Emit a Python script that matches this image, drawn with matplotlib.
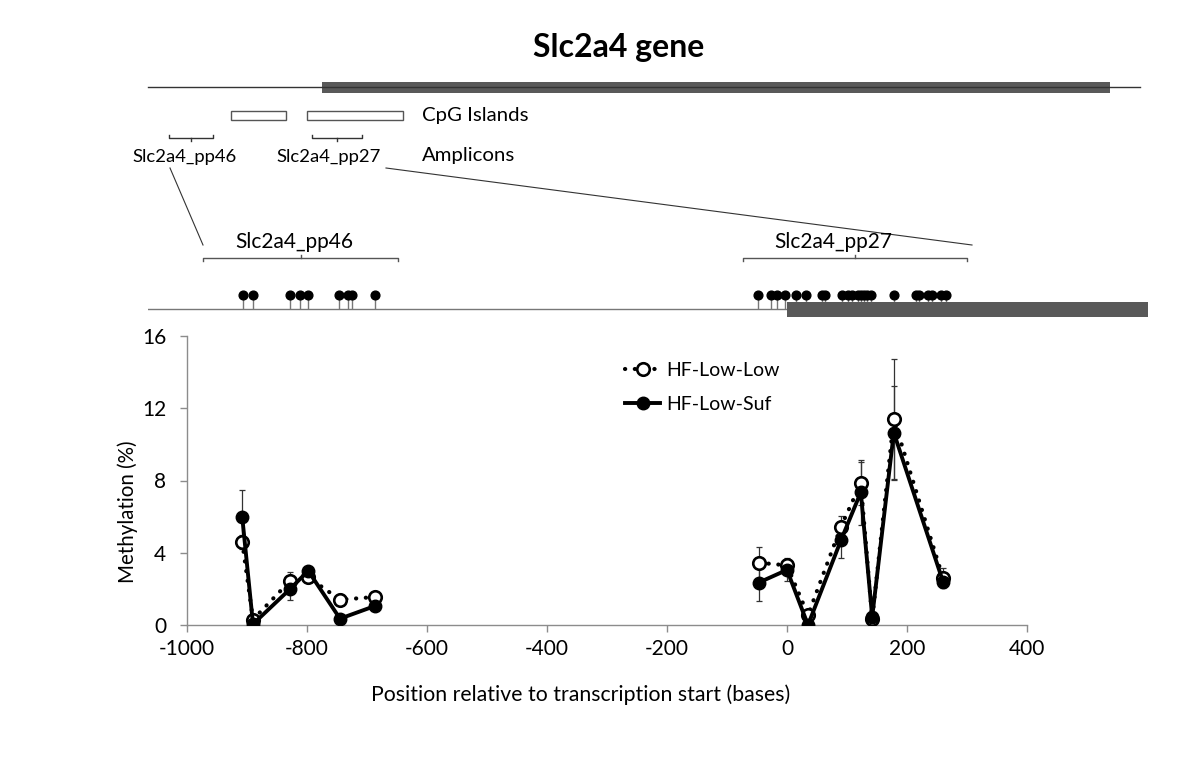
import matplotlib
matplotlib.use('Agg')
import matplotlib.pyplot as plt
from matplotlib.patches import Rectangle
import numpy as np

plt.rcParams['font.family'] = ['Lato', 'DejaVu Sans']

# ---------------- data ----------------
amplicon = ['pp46'] * 6 + ['pp27'] * 8
positions = [-908, -890, -828, -798, -745, -687,
             -47, 0, 35, 90, 123, 142, 178, 260]
low_low = [4.6, 0.3, 2.45, 2.65, 1.4, 1.55,
           3.45, 3.3, 0.55, 5.45, 7.85, 0.35, 11.4, 2.6]
low_low_err = [0.4, 0.1, 0.5, 0.2, 0.3, 0.2,
               0.85, 0.4, 0.3, 0.6, 1.2, 0.1, 3.3, 0.55]
low_suf = [6.0, 0.05, 2.0, 3.0, 0.35, 1.05,
           2.35, 3.05, 0.0, 4.7, 7.35, 0.45, 10.65, 2.4]
low_suf_err = [1.47, 0.05, 0.6, 0.2, 0.2, 0.2,
               1.0, 0.6, 0.1, 1.0, 1.8, 0.2, 2.6, 0.3]

cpg_pp46 = [-907, -890, -828, -812, -798, -747, -732, -725, -687]
cpg_pp27 = [-49, -27, -16, -3, 15, 32, 58, 63, 91, 102, 109, 119, 124,
            128, 133, 140, 178, 215, 220, 235, 241, 256, 265]

xticks = [-1000, -800, -600, -400, -200, 0, 200, 400]
yticks = [0, 4, 8, 12, 16]
series_names = ['HF-Low-Low', 'HF-Low-Suf']

W, H = 1200, 762
fig = plt.figure(figsize=(W / 100, H / 100), dpi=100)


def px_axes(x0, y0, x1, y1):
    """axes from pixel box (top-left origin)"""
    return fig.add_axes([x0 / W, 1 - y1 / H, (x1 - x0) / W, (y1 - y0) / H])


# ---------------- main chart ----------------
ax = px_axes(187, 336, 1027, 625)
ax.set_xlim(-1000, 400)
ax.set_ylim(0, 16)

pos = np.array(positions, float)
ll = np.array(low_low)
ls = np.array(low_suf)
lle = np.array(low_low_err)
lse = np.array(low_suf_err)
amp = np.array(amplicon)

h_ll = h_ls = None
for a in ['pp46', 'pp27']:
    m = amp == a
    ax.errorbar(pos[m], ls[m], yerr=lse[m], fmt='none', ecolor='#333333',
                elinewidth=0.9, capsize=2.5, capthick=0.9, zorder=2)
    ax.errorbar(pos[m], ll[m], yerr=lle[m], fmt='none', ecolor='#333333',
                elinewidth=0.9, capsize=2.5, capthick=0.9, zorder=2)
    h_ll, = ax.plot(pos[m], ll[m], color='black', lw=3.0,
                    linestyle=(0, (0.05, 2.3)), dash_capstyle='round',
                    marker='o', ms=9, mfc='white', mec='black', mew=1.9, zorder=3)
    h_ls, = ax.plot(pos[m], ls[m], color='black', lw=2.8, marker='o', ms=9,
                    mfc='black', mec='black', zorder=4, solid_joinstyle='miter')

for s in ['top', 'right']:
    ax.spines[s].set_visible(False)
for s in ['left', 'bottom']:
    ax.spines[s].set_color('#8c8c8c')
    ax.spines[s].set_linewidth(1.0)
ax.set_xticks(xticks)
ax.set_yticks(yticks)
ax.set_xticklabels([str(v) for v in xticks])
ax.set_yticklabels([str(v) for v in yticks])
ax.tick_params(axis='x', direction='out', length=5, width=1, color='#8c8c8c',
               pad=5, labelsize=15)
ax.tick_params(axis='y', direction='out', length=5, width=1, color='#8c8c8c',
               pad=10, labelsize=15)
ax.set_xlabel('Position relative to transcription start (bases)', fontsize=15.3,
              va='center')
ax.xaxis.set_label_coords((581 - 187) / 840, (625 - 695) / 289)
ax.set_ylabel('Methylation (%)', fontsize=14.8, va='center')
ax.yaxis.set_label_coords((128 - 187) / 840, (625 - 512) / 289)

leg = ax.legend([h_ll, h_ls], series_names, loc='upper left',
                bbox_to_anchor=(625 / W, 1 - 362 / H),
                bbox_transform=fig.transFigure, frameon=False, fontsize=14,
                handlelength=1.8, handletextpad=0.3, labelspacing=0.85,
                borderpad=0, borderaxespad=0, numpoints=1)

# ---------------- CpG lollipop track (shares bases scale) ----------------
px_per_base = 840 / 1400
x_left_px, x_right_px = 148, 1148
lx0 = -1000 - (187 - x_left_px) / px_per_base
lx1 = -1000 + (x_right_px - 187) / px_per_base
al = px_axes(x_left_px, 280, x_right_px, 322)
al.set_xlim(lx0, lx1)
al.set_ylim(322, 280)
al.axis('off')
al.plot([lx0, 0], [309, 309], color='#777777', lw=1.0, zorder=1)
al.add_patch(Rectangle((0, 301.7), lx1, 15.6, facecolor='#595959',
                       edgecolor='none', zorder=3))
cpgs = np.array(cpg_pp46 + cpg_pp27, float)
al.vlines(cpgs, 295, 309, color='#777777', lw=1.0, zorder=2)
al.plot(cpgs, np.full(len(cpgs), 295.0), 'o', color='black', ms=6.3, zorder=4)

# ---------------- schematic overlay (pixel coordinates) ----------------
ov = fig.add_axes([0, 0, 1, 1])
ov.set_xlim(0, W)
ov.set_ylim(H, 0)
ov.axis('off')
ov.patch.set_alpha(0)

ov.text(619, 47, 'Slc2a4 gene', ha='center', va='center', fontsize=23,
        fontweight='bold')
ov.plot([148, 1140], [87, 87], color='#333333', lw=1.0)
ov.add_patch(Rectangle((322, 81.7), 1110 - 322, 11, facecolor='#595959',
                       edgecolor='none'))
ov.add_patch(Rectangle((231, 110.5), 55, 9.8, facecolor='white',
                       edgecolor='#555555', lw=1.0))
ov.add_patch(Rectangle((307, 110.5), 96, 9.8, facecolor='white',
                       edgecolor='#555555', lw=1.0))
ov.text(422, 116, 'CpG Islands', ha='left', va='center', fontsize=14.7)
ov.text(422, 155, 'Amplicons', ha='left', va='center', fontsize=14.7)


def bracket_up(x0, x1, y):
    ov.plot([x0, x0, x1, x1], [y - 3.3, y, y, y - 3.3], color='#333333', lw=1.0)
    xm = (x0 + x1) / 2
    ov.plot([xm, xm], [y, y + 3], color='#333333', lw=1.0)


def bracket_down(x0, x1, y):
    ov.plot([x0, x0, x1, x1], [y + 3, y, y, y + 3], color='#555555', lw=1.0)
    xm = (x0 + x1) / 2
    ov.plot([xm, xm], [y, y - 3], color='#555555', lw=1.0)


bracket_up(169, 213, 138.3)
bracket_up(312, 362, 138.3)
ov.text(185, 157, 'Slc2a4_pp46', ha='center', va='center', fontsize=13.3)
ov.text(329, 157, 'Slc2a4_pp27', ha='center', va='center', fontsize=13.3)

bracket_down(203, 398, 258.3)
bracket_down(743, 967, 258.3)
ov.text(294, 242, 'Slc2a4_pp46', ha='center', va='center', fontsize=15)
ov.text(833, 242, 'Slc2a4_pp27', ha='center', va='center', fontsize=15)

ov.plot([170, 203], [168, 245], color='#333333', lw=0.8)
ov.plot([386, 972], [168, 245], color='#333333', lw=0.8)

fig.savefig('out.png', dpi=100)
